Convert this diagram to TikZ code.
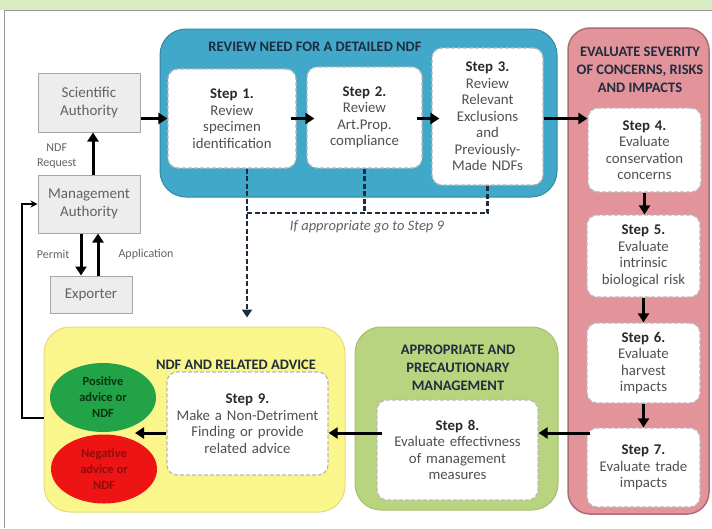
\documentclass[tikz,border=0pt]{standalone}
\usepackage{fontspec}
\setmainfont{Carlito}
\usetikzlibrary{arrows.meta,shapes.geometric}
\definecolor{band}{HTML}{D9EDC3}
\definecolor{bluebox}{HTML}{41A8C9}
\definecolor{redbox}{HTML}{E3939A}
\definecolor{yelbox}{HTML}{FAF68C}
\definecolor{grnbox}{HTML}{B8D47E}
\definecolor{posell}{HTML}{22A347}
\definecolor{negell}{HTML}{EE1414}
\definecolor{steptxt}{HTML}{505050}
\definecolor{stephead}{HTML}{2A2A2A}
\definecolor{titletxt}{HTML}{1E2D40}
\definecolor{leftfill}{HTML}{EDEDED}
\definecolor{lefttxt}{HTML}{626262}
\definecolor{dashcol}{HTML}{1E2D3B}
\tikzset{
  container/.style={rounded corners=26pt, line width=1pt, inner sep=0pt},
  stepbox/.style={draw=gray!55, dash pattern=on 4pt off 2pt, line width=1.2pt, fill=white,
    rounded corners=10pt, align=center, inner sep=2pt, text=steptxt,
    font=\fontsize{14.8}{16.5}\selectfont},
  titletext/.style={align=center, text=titletxt, font=\bfseries\fontsize{14.5}{18}\selectfont},
  leftbox/.style={draw=gray!70, fill=leftfill, line width=1pt, align=center, text=lefttxt,
    font=\fontsize{15}{18}\selectfont, inner sep=0pt},
  smalllabel/.style={align=center, text=lefttxt, font=\fontsize{12}{15}\selectfont},
  arr/.style={line width=3pt, -{Triangle[length=9pt,width=11pt]}},
  thinarr/.style={line width=1.8pt, -{Stealth[length=7pt,width=7pt]}},
  dsh/.style={line width=2.8pt, dash pattern=on 5pt off 2.5pt, draw=dashcol},
  outcome/.style={ellipse, inner sep=0pt, minimum width=106pt, minimum height=69pt, align=center,
    font=\bfseries\fontsize{12.5}{16}\selectfont},
}
\begin{document}
\begin{tikzpicture}[x=1pt,y=-1pt]
\useasboundingbox (0,0) rectangle (712,528);
\fill[band] (0,0) rectangle (712,10);
\draw[gray!80, line width=1pt] (4,528) -- (4,10) -- (712,10);

% containers
\node[container, fill=bluebox, draw=bluebox!80!black, minimum width=397pt, minimum height=168pt] (blue) at (358.5,113) {};
\node[container, rounded corners=22pt, fill=redbox, draw=redbox!75!black, line width=1.5pt, minimum width=141pt, minimum height=486pt] (red) at (638.5,271) {};
\node[container, fill=yelbox, draw=yelbox!90!black, minimum width=301pt, minimum height=185pt] (yel) at (194.5,419.5) {};
\node[container, fill=grnbox, draw=grnbox!90!black, minimum width=203pt, minimum height=183pt] (grn) at (456.5,418.5) {};

% titles
\node[titletext] (tblue) at (315,47) {REVIEW NEED FOR A DETAILED NDF};
\node[titletext] (tred) at (640,70) {EVALUATE SEVERITY\\OF CONCERNS, RISKS\\AND IMPACTS};
\node[titletext] (tgrn) at (458,368) {APPROPRIATE AND\\PRECAUTIONARY\\MANAGEMENT};
\node[titletext] (tyel) at (236,365) {NDF AND RELATED ADVICE};

% step boxes
\node[stepbox, minimum width=128pt, minimum height=99pt, text width=120pt] (s1) at (232,118.5)
  {\textcolor{stephead}{\textbf{Step 1.}}\\Review\\specimen\\identification};
\node[stepbox, minimum width=115pt, minimum height=101pt, text width=108pt] (s2) at (364.5,117.5)
  {\textcolor{stephead}{\textbf{Step 2.}}\\Review\\Art.Prop.\\compliance};
\node[stepbox, minimum width=111pt, minimum height=137pt, text width=104pt] (s3) at (487.5,116.5)
  {\textcolor{stephead}{\textbf{Step 3.}}\\Review\\Relevant\\Exclusions\\and\\Previously-\\Made NDFs};
\node[stepbox, minimum width=113pt, minimum height=84pt, text width=106pt] (s4) at (644.5,150)
  {\textcolor{stephead}{\textbf{Step 4.}}\\Evaluate\\conservation\\concerns};
\node[stepbox, minimum width=113pt, minimum height=82pt, text width=106pt] (s5) at (643.5,256)
  {\textcolor{stephead}{\textbf{Step 5.}}\\Evaluate\\intrinsic\\biological risk};
\node[stepbox, minimum width=113pt, minimum height=80pt, text width=106pt] (s6) at (643.5,363)
  {\textcolor{stephead}{\textbf{Step 6.}}\\Evaluate\\harvest\\impacts};
\node[stepbox, minimum width=113pt, minimum height=79pt, text width=106pt] (s7) at (643.5,467.5)
  {\textcolor{stephead}{\textbf{Step 7.}}\\Evaluate trade\\impacts};
\node[stepbox, minimum width=161pt, minimum height=100pt, text width=154pt] (s8) at (457.5,450)
  {\textcolor{stephead}{\textbf{Step 8.}}\\Evaluate effectivness\\of management\\measures};
\node[stepbox, minimum width=161pt, minimum height=103pt, text width=154pt] (s9) at (247.5,423.5)
  {\textcolor{stephead}{\textbf{Step 9.}}\\Make a Non-Detriment\\Finding or provide\\related advice};

% outcomes
\node[outcome, fill=posell, text=black!70!posell] (pos) at (103,397.5) {Positive\\advice or\\NDF};
\node[outcome, fill=negell, text=black!40!negell] (neg) at (104,469) {Negative\\advice or\\NDF};

% left actors
\node[leftbox, minimum width=102pt, minimum height=59pt] (sa) at (89,102.5) {Scientific\\Authority};
\node[leftbox, minimum width=102pt, minimum height=58pt] (ma) at (89,204) {Management\\Authority};
\node[leftbox, minimum width=82pt, minimum height=37pt] (ex) at (91,294.5) {Exporter};

\node[smalllabel, anchor=east] (lreq) at (80,156) {NDF\\Request};
\node[smalllabel, anchor=east] (lperm) at (73,254) {Permit};
\node[smalllabel, anchor=west] (lapp) at (115,254) {Application};
\node[font=\itshape\fontsize{14.5}{17}\selectfont, text=lefttxt] (goto) at (367,227) {If appropriate go to Step 9};

% helper coordinates
\coordinate (dj) at (247,213);
\coordinate (r1) at (0,433);
\coordinate (fb) at (22,418);
\coordinate (junc) at (135,433);

% main arrows
\draw[arr] (sa.east |- s1.west) -- (s1.west);
\draw[arr, shorten <=-6pt, shorten >=-8pt] (s1.east) -- (s2.west |- s1.east);
\draw[arr, shorten <=-6pt, shorten >=-8pt] (s2.east |- s1.east) -- (s3.west |- s1.east);
\draw[arr] (s3.east |- s1.east) -- (s4.west |- s1.east);
\draw[arr] (s4.south) -- (s4.south |- s5.north);
\draw[arr] (s5.south) -- (s5.south |- s6.north);
\draw[arr] (s6.south) -- (s6.south |- s7.north);
\draw[arr, shorten <=-4pt] (s7.west |- r1) -- (s8.east |- r1);
\draw[arr, shorten <=-6pt] (s8.west |- r1) -- (s9.east |- r1);
\draw[arr] (s9.west |- r1) -- (junc);

% actor arrows
\draw[arr] (ma.north -| 93,0) -- (sa.south -| 93,0);
\draw[arr] ([xshift=-8pt]ma.south) -- ([xshift=-8pt]ma.south |- ex.north);
\draw[arr] ([xshift=7pt]ex.north) -- ([xshift=7pt]ex.north |- ma.south);
\draw[thinarr] (yel.west |- fb) -- (fb) |- (ma.west);

% dashed links
\draw[dsh, -{Triangle[length=8pt,width=10pt]}] (s1.south -| dj) -- ([yshift=9pt]dj |- yel.north);
\draw[dsh] (s2.south) -- (s2.south |- dj);
\draw[dsh] (dj) -- (dj -| s3.south) -- (s3.south);
\end{tikzpicture}
\end{document}
